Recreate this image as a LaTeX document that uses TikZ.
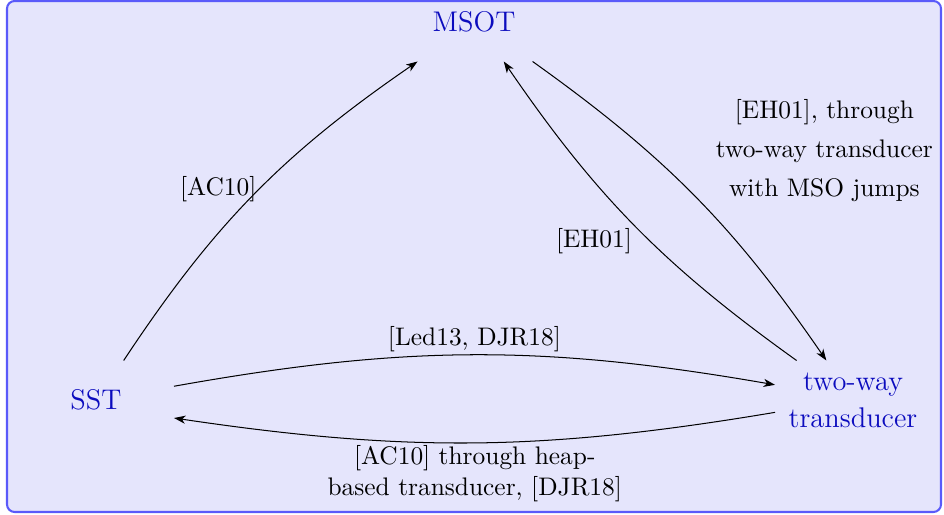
\documentclass[tikz,border=0pt]{standalone}
\usetikzlibrary{arrows.meta}
\definecolor{framefill}{RGB}{229,229,252}
\definecolor{framedraw}{RGB}{90,90,250}
\definecolor{nodeblue}{RGB}{12,12,190}
\begin{document}
\begin{tikzpicture}[x=0.3937pt,y=-0.3937pt,
  state/.style={rectangle, inner sep=0pt, minimum width=61pt, minimum height=30.7pt, text=nodeblue, font=\fontsize{11.2}{14.6}\selectfont, align=center},
  arr/.style={-{Stealth[length=4.5pt,width=3.2pt,inset=1.3pt]}, line width=0.4pt},
  lbl/.style={inner sep=1pt, font=\fontsize{10}{12}\selectfont, text=black, align=center}]
\useasboundingbox (0,0) rectangle (944,515);
\draw[framedraw, fill=framefill, line width=0.8pt, rounded corners=3pt] (7,1) rectangle (941,512);
\node[state] (msot) at (474,22) {MSOT};
\node[state] (sst) at (96,400) {SST};
\node[state] (tw) at (853,400) {two-way\\transducer};
\draw[arr] (sst.55) to[bend left=11] node[lbl, pos=0.52, left] {[AC10]} (msot.215);
\draw[arr] (msot.-34) to[bend left=10] node[lbl, pos=0.53, anchor=south west, xshift=4pt] {[EH01], through\\[3.3pt] two-way transducer\\[3.3pt] with MSO jumps} (tw.124);
\draw[arr] (tw.145) to[bend left=10] node[lbl, pos=0.5, left, yshift=-6pt] {[EH01]} (msot.-53);
\draw[arr] (sst.10) to[bend left=10] node[lbl, midway, above] {[Led13, DJR18]} (tw.169);
\draw[arr] (tw.189) to[bend left=9] node[lbl, midway, below] {[AC10] through heap-\\based transducer, [DJR18]} (sst.-13);
\end{tikzpicture}
\end{document}
